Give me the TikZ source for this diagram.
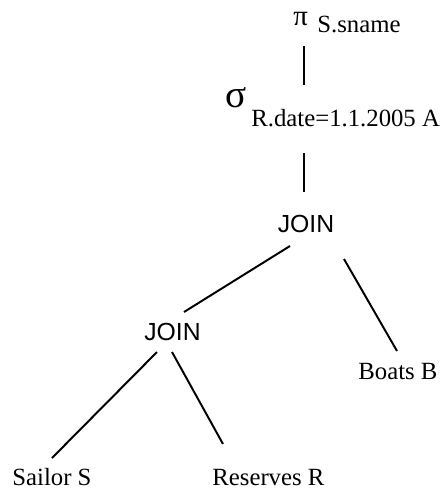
\documentclass[tikz,border=0pt]{standalone}
\usepackage{fontspec}
\setmainfont{Liberation Serif}
\newfontfamily\joinfont{Liberation Sans}
\usetikzlibrary{calc}
\usetikzlibrary{positioning}
\tikzstyle{relnode} = [inner sep=0pt, anchor=base west, font=\fontsize{12}{14}\selectfont]
\tikzstyle{joinnode} = [inner sep=0pt, anchor=base, font=\joinfont\fontsize{12}{14}\selectfont]
\tikzstyle{opsym} = [inner sep=0pt, anchor=base west]
\tikzstyle{edge} = [line width=0.95pt]

\begin{document}
\begin{tikzpicture}[x=0.485pt, y=-0.485pt]
\useasboundingbox (0,0) rectangle (442,488);
\node[opsym, font=\fontsize{14}{16}\selectfont] (pi) at (293,25) {π};
\node[relnode] (proj) at (317,32) {S.sname};
\node[opsym, font=\fontsize{19}{22}\selectfont] (sigma) at (225,107) {σ};
\node[relnode] (cond) at (251,126) {R.date=1.1.2005 A};
\node[joinnode] (join1) at (306,232) {JOIN};
\node[joinnode] (join2) at (172.5,340) {JOIN};
\node[relnode] (boats) at (358,379) {Boats B};
\node[relnode] (sailor) at (12,485) {Sailor S};
\node[relnode] (reserves) at (212,485) {Reserves R};
\draw[edge] ($(pi.base west)+(11,21)$) -- ($(cond.base west)+(53,-41)$);
\draw[edge] ($(cond.base west)+(53,27)$) -- ($(join1.base)+(-2,-40)$);
\draw[edge] ($(join1.base)+(-16,14)$) -- ($(join2.base)+(11.5,-28)$);
\draw[edge] ($(join1.base)+(38,27)$) -- ($(boats.base west)+(39,-28)$);
\draw[edge] ($(join2.base)+(-15.5,12)$) -- ($(sailor.base west)+(40,-27)$);
\draw[edge] ($(join2.base)+(-0.5,12)$) -- ($(reserves.base west)+(11,-41)$);
\end{tikzpicture}
\end{document}
